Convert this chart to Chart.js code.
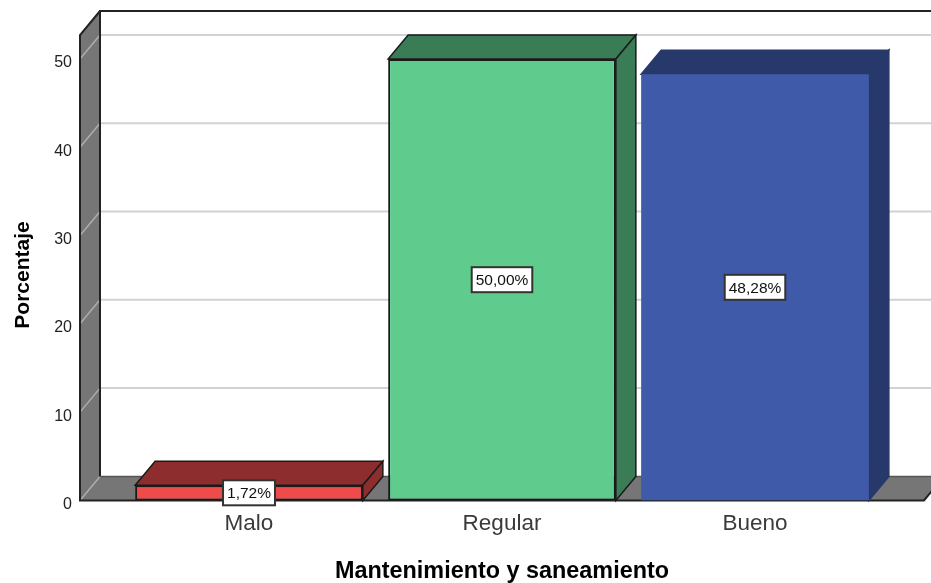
<!DOCTYPE html>
<html lang="es">
<head>
<meta charset="UTF-8">
<title>Mantenimiento y saneamiento</title>
<script src="https://cdn.jsdelivr.net/npm/chart.js"></script>
<style>
    html, body { margin: 0; padding: 0; background: #fff; overflow: hidden; }
    #wrap { position: relative; width: 931px; height: 583px; }
</style>
</head>
<body>
<div id="wrap"><canvas id="grafico"></canvas></div>
<script>
const categorias = ['Malo', 'Regular', 'Bueno'];
const porcentajes = [1.72, 50.00, 48.28];
const marcasY = [0, 10, 20, 30, 40, 50];
const coloresFrente = ['#ef4b4b', '#5fcb8d', '#3f5aa8'];
const coloresOscuros = ['#8e2d2d', '#3a7c56', '#27386b'];
const bordesFondo = ['#1a1a1a', '#1a1a1a', '#27386b'];
const grosorFrente = [2, 2, 0];
const tituloX = 'Mantenimiento y saneamiento';
const tituloY = 'Porcentaje';

// fake 3D: every face is pushed back by this offset
const fondoX = 20;
const fondoY = -24;
const sobrante = 42.5;   // floor runs past the category band on both sides
const fuente = '"Liberation Sans", Arial, sans-serif';

function poligono(ctx, puntos, relleno, borde, grosor) {
    ctx.beginPath();
    puntos.forEach((p, i) => i ? ctx.lineTo(p[0], p[1]) : ctx.moveTo(p[0], p[1]));
    ctx.closePath();
    if (relleno) { ctx.fillStyle = relleno; ctx.fill(); }
    if (borde) { ctx.strokeStyle = borde; ctx.lineWidth = grosor || 1.5; ctx.stroke(); }
}

const caja3d = {
    id: 'caja3d',
    beforeDatasetsDraw(chart) {
        const { ctx, chartArea: a, scales: { y } } = chart;
        const izq = a.left - sobrante;
        const der = a.right + sobrante;
        const suelo = y.getPixelForValue(0);
        ctx.save();

        // walls and floor
        poligono(ctx, [[izq, a.top], [izq + fondoX, a.top + fondoY], [izq + fondoX, suelo + fondoY], [izq, suelo]], '#767676');
        poligono(ctx, [[izq, suelo], [izq + fondoX, suelo + fondoY], [der + fondoX, suelo + fondoY], [der, suelo]], '#767676');

        // grid on the back wall and across the side wall
        marcasY.forEach(v => {
            const py = y.getPixelForValue(v);
            if (v > 0) {
                ctx.lineWidth = 2;
                ctx.strokeStyle = '#d2d2d2';
                ctx.beginPath();
                ctx.moveTo(izq + fondoX, py + fondoY);
                ctx.lineTo(der + fondoX, py + fondoY);
                ctx.stroke();
            }
            ctx.lineWidth = 1.5;
            ctx.strokeStyle = '#adadad';
            ctx.beginPath();
            ctx.moveTo(izq, py);
            ctx.lineTo(izq + fondoX, py + fondoY);
            ctx.stroke();
        });

        // outlines, floor front edge included
        ctx.strokeStyle = '#222';
        ctx.lineWidth = 2;
        ctx.beginPath();
        ctx.moveTo(izq + fondoX, suelo + fondoY);
        ctx.lineTo(izq + fondoX, a.top + fondoY);
        ctx.lineTo(der + fondoX, a.top + fondoY);
        ctx.moveTo(izq + fondoX, a.top + fondoY);
        ctx.lineTo(izq, a.top);
        ctx.lineTo(izq, suelo);
        ctx.lineTo(der, suelo);
        ctx.lineTo(der + fondoX, suelo + fondoY);
        ctx.stroke();
        ctx.lineWidth = 1.5;
        ctx.beginPath();
        ctx.moveTo(izq + fondoX, suelo + fondoY);
        ctx.lineTo(der + fondoX, suelo + fondoY);
        ctx.strokeStyle = '#555';
        ctx.stroke();

        // top and side face of each bar
        chart.getDatasetMeta(0).data.forEach((barra, i) => {
            const l = barra.x - barra.width / 2;
            const r = barra.x + barra.width / 2;
            const t = barra.y;
            const b = barra.base;
            poligono(ctx, [[l, t], [l + fondoX, t + fondoY], [r + fondoX, t + fondoY], [r, t]], coloresOscuros[i], bordesFondo[i], 1.5);
            poligono(ctx, [[r, t], [r + fondoX, t + fondoY], [r + fondoX, b + fondoY], [r, b]], coloresOscuros[i], bordesFondo[i], 1.5);
        });
        ctx.restore();
    },
    afterDatasetsDraw(chart) {
        const { ctx } = chart;
        ctx.save();

        // value tags in the middle of each bar
        ctx.font = '15.5px ' + fuente;
        ctx.textAlign = 'center';
        ctx.textBaseline = 'middle';
        chart.getDatasetMeta(0).data.forEach((barra, i) => {
            const texto = porcentajes[i].toFixed(2).replace('.', ',') + '%';
            const ancho = ctx.measureText(texto).width + 8;
            const cy = (barra.y + barra.base) / 2;
            ctx.fillStyle = '#fff';
            ctx.strokeStyle = '#333';
            ctx.lineWidth = 2;
            ctx.fillRect(barra.x - ancho / 2, cy - 12.5, ancho, 25);
            ctx.strokeRect(barra.x - ancho / 2, cy - 12.5, ancho, 25);
            ctx.fillStyle = '#111';
            ctx.fillText(texto, barra.x, cy + 1);
        });

        // axis title sits slightly under the middle of the axis
        ctx.font = 'bold 21px ' + fuente;
        ctx.fillStyle = '#000';
        ctx.translate(23, 275);
        ctx.rotate(-Math.PI / 2);
        ctx.fillText(tituloY, 0, 0);
        ctx.restore();
    }
};

new Chart(document.getElementById('grafico'), {
    type: 'bar',
    data: {
        labels: categorias,
        datasets: [{
            data: porcentajes,
            backgroundColor: coloresFrente,
            borderColor: '#1a1a1a',
            borderWidth: grosorFrente,
            borderSkipped: false,
            categoryPercentage: 1,
            barPercentage: 0.9
        }]
    },
    options: {
        responsive: true,
        maintainAspectRatio: false,
        animation: false,
        events: [],
        layout: { padding: { top: 35, right: 49.5, left: 0, bottom: 0 } },
        plugins: { legend: { display: false }, tooltip: { enabled: false } },
        scales: {
            x: {
                grid: { display: false },
                border: { display: false },
                ticks: { color: '#3a3a3a', font: { size: 22.5, family: fuente }, padding: 2, maxRotation: 0 },
                title: { display: true, text: tituloX, color: '#000', font: { size: 23.4, weight: 'bold', lineHeight: 1, family: fuente }, padding: { top: 20.2, bottom: 0 } }
            },
            y: {
                min: 0,
                max: 52.72,
                afterFit(scale) { scale.width = 122.5; },
                afterBuildTicks(scale) { scale.ticks = marcasY.map(v => ({ value: v })); },
                // long invisible tick keeps the numbers left of the side wall
                grid: { display: false, tickLength: 50.5 },
                border: { display: false },
                ticks: {
                    color: '#222',
                    font: { size: 16, lineHeight: 0.5, family: fuente },
                    padding: 0,
                    // empty first line drops the number a little under its grid level
                    callback: v => ['', String(v)]
                }
            }
        }
    },
    plugins: [caja3d]
});
</script>
</body>
</html>
